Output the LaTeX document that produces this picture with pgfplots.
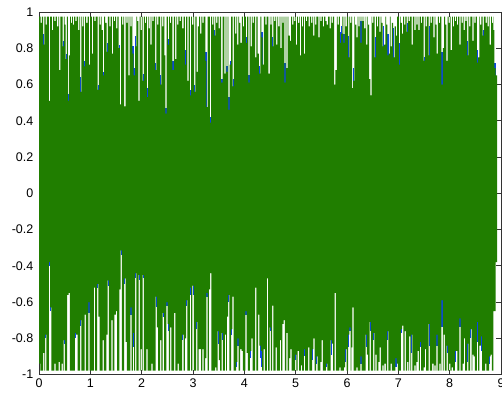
\documentclass[border={0pt 0pt -2.5pt 0pt}]{standalone}
\usepackage{pgfplots}
\pgfplotsset{compat=1.18}
\usepackage{pgfplotstable}
\usepackage{fontspec}
\setmainfont{Liberation Sans}
\definecolor{mgreen}{RGB}{32,126,0}
\definecolor{mblue}{RGB}{10,70,230}

\pgfplotstableread{
x y
0 0.975
0.03 0.94
0.055 0.975
0.08 0.82
0.105 0.975
0.13 0.93
0.155 0.975
0.19 0.51
0.215 0.975
0.25 0.90
0.275 0.975
0.30 0.95
0.325 0.975
0.35 0.92
0.375 0.975
0.39 0.68
0.415 0.975
0.46 0.81
0.485 0.975
0.50 0.93
0.52 0.74
0.545 0.975
0.56 0.51
0.58 0.76
0.605 0.975
0.62 0.94
0.645 0.975
0.66 0.93
0.685 0.975
0.71 0.95
0.735 0.975
0.76 0.90
0.785 0.975
0.80 0.56
0.825 0.975
0.84 0.92
0.865 0.975
0.875 0.70
0.90 0.975
0.92 0.94
0.945 0.975
0.97 0.71
0.995 0.975
1.03 0.77
1.055 0.975
1.08 0.95
1.105 0.975
1.14 0.57
1.165 0.975
1.18 0.93
1.205 0.975
1.22 0.90
1.245 0.65
1.27 0.975
1.29 0.94
1.315 0.78
1.34 0.975
1.37 0.92
1.395 0.975
1.42 0.77
1.445 0.975
1.46 0.95
1.485 0.975
1.50 0.91
1.525 0.975
1.55 0.80
1.575 0.49
1.60 0.975
1.62 0.93
1.645 0.975
1.66 0.48
1.685 0.975
1.70 0.94
1.725 0.975
1.74 0.65
1.765 0.975
1.78 0.92
1.805 0.975
1.82 0.77
1.845 0.65
1.87 0.81
1.895 0.975
1.91 0.95
1.935 0.51
1.96 0.975
1.98 0.90
2.005 0.975
2.02 0.62
2.045 0.975
2.06 0.94
2.085 0.975
2.10 0.53
2.125 0.975
2.135 0.91
2.16 0.975
2.17 0.82
2.195 0.975
2.21 0.95
2.235 0.975
2.26 0.68
2.285 0.975
2.30 0.93
2.325 0.975
2.36 0.60
2.385 0.975
2.40 0.92
2.425 0.975
2.44 0.76
2.46 0.44
2.485 0.975
2.51 0.82
2.535 0.975
2.55 0.94
2.575 0.975
2.60 0.68
2.625 0.975
2.65 0.74
2.675 0.975
2.69 0.93
2.715 0.975
2.74 0.95
2.765 0.975
2.79 0.91
2.815 0.975
2.84 0.71
2.865 0.975
2.89 0.62
2.915 0.975
2.94 0.54
2.965 0.975
2.98 0.93
3.005 0.975
3.02 0.56
3.045 0.975
3.07 0.67
3.095 0.92
3.12 0.975
3.14 0.88
3.165 0.975
3.18 0.94
3.205 0.975
3.24 0.73
3.26 0.475
3.285 0.975
3.33 0.39
3.355 0.975
3.37 0.93
3.395 0.975
3.41 0.87
3.435 0.975
3.45 0.94
3.475 0.975
3.50 0.91
3.525 0.975
3.55 0.61
3.575 0.975
3.61 0.66
3.635 0.975
3.65 0.67
3.675 0.975
3.69 0.46
3.715 0.71
3.74 0.975
3.77 0.59
3.795 0.975
3.82 0.88
3.845 0.975
3.86 0.82
3.885 0.975
3.90 0.94
3.925 0.83
3.95 0.975
3.97 0.92
3.995 0.975
4.03 0.83
4.055 0.975
4.08 0.61
4.105 0.975
4.12 0.81
4.145 0.975
4.16 0.94
4.185 0.975
4.21 0.75
4.235 0.975
4.26 0.77
4.285 0.66
4.31 0.975
4.33 0.86
4.355 0.71
4.38 0.975
4.41 0.93
4.435 0.975
4.47 0.66
4.495 0.975
4.505 0.93
4.53 0.975
4.54 0.81
4.565 0.975
4.58 0.95
4.605 0.975
4.62 0.82
4.645 0.975
4.66 0.92
4.685 0.975
4.70 0.80
4.725 0.975
4.74 0.94
4.765 0.975
4.78 0.61
4.805 0.975
4.82 0.69
4.845 0.975
4.86 0.87
4.885 0.84
4.91 0.975
4.93 0.93
4.955 0.975
4.97 0.95
4.995 0.975
5.005 0.82
5.03 0.975
5.045 0.94
5.07 0.975
5.08 0.76
5.105 0.975
5.12 0.92
5.145 0.975
5.16 0.77
5.185 0.975
5.20 0.95
5.225 0.975
5.25 0.92
5.275 0.975
5.30 0.94
5.325 0.975
5.34 0.87
5.365 0.975
5.38 0.93
5.405 0.975
5.44 0.86
5.465 0.975
5.48 0.95
5.505 0.975
5.53 0.92
5.555 0.975
5.58 0.95
5.605 0.93
5.63 0.975
5.66 0.91
5.685 0.975
5.70 0.94
5.725 0.975
5.75 0.60
5.775 0.68
5.80 0.975
5.815 0.93
5.84 0.975
5.86 0.83
5.885 0.88
5.91 0.975
5.93 0.83
5.955 0.975
5.97 0.92
5.995 0.975
6.02 0.75
6.045 0.975
6.06 0.94
6.085 0.975
6.10 0.58
6.12 0.62
6.145 0.975
6.155 0.93
6.18 0.86
6.205 0.975
6.22 0.92
6.245 0.975
6.26 0.83
6.285 0.975
6.30 0.95
6.325 0.975
6.335 0.91
6.36 0.975
6.37 0.82
6.395 0.975
6.405 0.93
6.43 0.63
6.455 0.54
6.48 0.975
6.49 0.94
6.515 0.975
6.54 0.75
6.565 0.975
6.58 0.92
6.605 0.975
6.63 0.89
6.655 0.975
6.67 0.94
6.695 0.81
6.72 0.82
6.745 0.975
6.76 0.93
6.785 0.76
6.81 0.77
6.835 0.975
6.85 0.81
6.875 0.94
6.90 0.75
6.925 0.92
6.95 0.87
6.975 0.975
7.01 0.71
7.035 0.975
7.045 0.94
7.07 0.88
7.095 0.975
7.11 0.93
7.135 0.975
7.16 0.89
7.185 0.975
7.20 0.95
7.225 0.975
7.26 0.82
7.285 0.975
7.31 0.90
7.335 0.975
7.35 0.93
7.375 0.975
7.39 0.90
7.415 0.975
7.44 0.94
7.465 0.975
7.49 0.73
7.515 0.975
7.53 0.92
7.555 0.975
7.59 0.76
7.615 0.975
7.63 0.94
7.655 0.975
7.68 0.86
7.705 0.975
7.72 0.93
7.745 0.77
7.77 0.975
7.79 0.94
7.815 0.975
7.84 0.60
7.865 0.80
7.89 0.975
7.91 0.93
7.935 0.73
7.96 0.975
7.98 0.94
8.005 0.975
8.02 0.79
8.045 0.975
8.06 0.92
8.085 0.975
8.10 0.95
8.125 0.975
8.14 0.93
8.165 0.975
8.19 0.82
8.215 0.975
8.23 0.94
8.255 0.975
8.27 0.90
8.295 0.975
8.305 0.95
8.33 0.975
8.34 0.76
8.365 0.975
8.38 0.92
8.405 0.975
8.44 0.84
8.465 0.975
8.48 0.94
8.505 0.975
8.53 0.72
8.555 0.75
8.58 0.975
8.59 0.93
8.615 0.975
8.64 0.87
8.665 0.975
8.70 0.94
8.725 0.975
8.74 0.92
8.765 0.975
8.78 0.82
8.805 0.975
8.82 0.94
8.845 0.975
8.85 0.90
8.87 0.69
8.895 0.65
8.925 0.65
}\gupper

\pgfplotstableread{
x y
0 -0.94
0.025 -0.978
0.08 -0.88
0.105 -0.978
0.12 -0.78
0.145 -0.978
0.19 -0.38
0.215 -0.63
0.24 -0.978
0.30 -0.94
0.325 -0.978
0.38 -0.93
0.405 -0.978
0.44 -0.94
0.465 -0.978
0.48 -0.81
0.505 -0.978
0.55 -0.56
0.575 -0.55
0.60 -0.978
0.70 -0.77
0.725 -0.78
0.75 -0.978
0.80 -0.70
0.825 -0.978
0.89 -0.67
0.915 -0.978
0.96 -0.60
0.985 -0.978
1.07 -0.52
1.095 -0.978
1.13 -0.50
1.155 -0.68
1.18 -0.978
1.24 -0.81
1.265 -0.978
1.31 -0.78
1.335 -0.48
1.36 -0.978
1.41 -0.70
1.435 -0.978
1.47 -0.67
1.495 -0.65
1.52 -0.978
1.565 -0.53
1.59 -0.315
1.615 -0.978
1.66 -0.47
1.685 -0.82
1.71 -0.978
1.78 -0.63
1.805 -0.978
1.83 -0.77
1.855 -0.978
1.87 -0.44
1.895 -0.978
1.94 -0.45
1.965 -0.978
1.98 -0.86
2.005 -0.978
2.02 -0.45
2.045 -0.978
2.09 -0.86
2.115 -0.978
2.19 -0.94
2.215 -0.978
2.27 -0.57
2.295 -0.74
2.32 -0.978
2.36 -0.81
2.385 -0.978
2.41 -0.66
2.435 -0.978
2.48 -0.60
2.505 -0.72
2.53 -0.978
2.555 -0.74
2.58 -0.978
2.63 -0.66
2.655 -0.978
2.70 -0.94
2.725 -0.978
2.79 -0.78
2.815 -0.978
2.84 -0.80
2.865 -0.59
2.89 -0.978
2.94 -0.52
2.965 -0.978
2.99 -0.51
3.015 -0.978
3.06 -0.71
3.085 -0.978
3.11 -0.86
3.135 -0.86
3.16 -0.978
3.18 -0.86
3.205 -0.978
3.235 -0.91
3.26 -0.55
3.285 -0.978
3.31 -0.53
3.335 -0.44
3.36 -0.978
3.43 -0.96
3.455 -0.978
3.48 -0.76
3.505 -0.92
3.53 -0.978
3.555 -0.77
3.58 -0.978
3.62 -0.78
3.645 -0.978
3.66 -0.68
3.685 -0.56
3.71 -0.978
3.74 -0.75
3.765 -0.57
3.79 -0.978
3.84 -0.93
3.865 -0.80
3.89 -0.978
3.92 -0.86
3.945 -0.87
3.97 -0.978
4.02 -0.65
4.045 -0.88
4.07 -0.978
4.11 -0.87
4.135 -0.80
4.16 -0.978
4.21 -0.52
4.235 -0.978
4.27 -0.67
4.295 -0.84
4.32 -0.87
4.345 -0.978
4.375 -0.86
4.40 -0.978
4.44 -0.47
4.465 -0.978
4.49 -0.74
4.515 -0.978
4.54 -0.62
4.565 -0.978
4.61 -0.85
4.635 -0.978
4.69 -0.81
4.715 -0.978
4.74 -0.72
4.765 -0.70
4.79 -0.978
4.82 -0.77
4.845 -0.978
4.87 -0.91
4.895 -0.86
4.92 -0.978
4.99 -0.89
5.015 -0.978
5.04 -0.87
5.065 -0.978
5.10 -0.95
5.125 -0.978
5.16 -0.86
5.185 -0.978
5.24 -0.85
5.265 -0.978
5.32 -0.86
5.345 -0.80
5.37 -0.978
5.40 -0.90
5.425 -0.978
5.48 -0.93
5.505 -0.81
5.53 -0.978
5.59 -0.94
5.615 -0.978
5.68 -0.81
5.705 -0.83
5.73 -0.978
5.76 -0.55
5.785 -0.978
5.85 -0.96
5.875 -0.978
5.94 -0.96
5.965 -0.86
5.99 -0.978
6.02 -0.78
6.045 -0.74
6.07 -0.978
6.085 -0.85
6.105 -0.63
6.13 -0.978
6.18 -0.96
6.205 -0.978
6.26 -0.90
6.285 -0.978
6.36 -0.78
6.385 -0.89
6.41 -0.978
6.44 -0.71
6.465 -0.978
6.51 -0.77
6.535 -0.978
6.55 -0.89
6.575 -0.978
6.61 -0.93
6.635 -0.85
6.66 -0.978
6.69 -0.95
6.715 -0.978
6.73 -0.94
6.755 -0.978
6.78 -0.76
6.805 -0.978
6.85 -0.94
6.875 -0.978
6.94 -0.91
6.965 -0.94
6.99 -0.978
7.05 -0.75
7.075 -0.73
7.10 -0.978
7.12 -0.76
7.145 -0.978
7.17 -0.93
7.195 -0.978
7.21 -0.79
7.235 -0.978
7.25 -0.78
7.275 -0.978
7.31 -0.95
7.335 -0.978
7.35 -0.93
7.375 -0.87
7.40 -0.978
7.42 -0.82
7.445 -0.978
7.49 -0.96
7.515 -0.86
7.54 -0.978
7.59 -0.72
7.615 -0.978
7.66 -0.94
7.685 -0.978
7.70 -0.95
7.725 -0.978
7.74 -0.78
7.765 -0.978
7.80 -0.94
7.825 -0.978
7.84 -0.59
7.865 -0.978
7.88 -0.78
7.905 -0.978
7.94 -0.84
7.965 -0.978
7.99 -0.94
8.015 -0.978
8.04 -0.96
8.065 -0.978
8.10 -0.87
8.125 -0.87
8.15 -0.978
8.19 -0.69
8.215 -0.978
8.25 -0.94
8.275 -0.80
8.30 -0.978
8.34 -0.83
8.365 -0.978
8.40 -0.75
8.425 -0.978
8.44 -0.89
8.465 -0.90
8.49 -0.978
8.53 -0.71
8.555 -0.978
8.58 -0.84
8.605 -0.79
8.63 -0.978
8.69 -0.94
8.715 -0.978
8.77 -0.90
8.795 -0.89
8.82 -0.978
8.85 -0.65
8.895 -0.38
8.925 -0.38
}\glower

\pgfplotstableread{
x y
0.0925 0.88
0.4725 0.84
0.5325 0.77
0.5725 0.55
0.8125 0.64
0.8875 0.73
1.1525 0.60
1.2575 0.67
1.3275 0.83
1.5625 0.82
1.8325 0.81
1.8575 0.69
1.8825 0.87
2.0325 0.66
2.1125 0.58
2.2725 0.72
2.3725 0.65
2.4725 0.47
2.5225 0.85
2.6125 0.73
2.8525 0.79
2.9525 0.57
3.0325 0.60
3.2525 0.78
3.3425 0.42
3.4225 0.90
3.5625 0.63
3.6625 0.70
3.7025 0.53
3.7275 0.73
3.7825 0.63
4.0425 0.86
4.0925 0.65
4.2975 0.70
4.3425 0.89
4.5525 0.86
4.7925 0.72
5.8725 0.89
5.8975 0.92
5.9425 0.88
6.0325 0.87
6.1325 0.69
6.2725 0.95
6.5525 0.86
6.7075 0.92
6.7975 0.88
6.9125 0.91
7.0225 0.83
7.1725 0.94
7.5025 0.75
7.6025 0.92
7.8525 0.78
8.3525 0.84
8.5425 0.79
8.6525 0.90
8.8825 0.72
}\bluetop

\pgfplotstableread{
x y
0.1325 -0.80
0.2025 -0.40
0.2275 -0.65
0.4925 -0.83
0.7125 -0.80
0.8125 -0.73
0.9725 -0.66
1.1425 -0.52
1.3475 -0.51
1.6025 -0.34
1.6725 -0.50
1.7925 -0.67
1.8425 -0.85
1.8825 -0.47
1.9525 -0.48
2.0325 -0.47
2.2825 -0.63
2.4225 -0.68
2.4925 -0.62
2.5175 -0.76
2.8025 -0.81
2.8775 -0.62
2.9525 -0.56
3.0025 -0.56
3.0725 -0.75
3.2725 -0.57
3.4925 -0.83
3.5675 -0.81
3.6975 -0.60
3.7525 -0.78
3.8525 -0.96
3.8775 -0.84
4.0325 -0.67
4.1225 -0.91
4.3075 -0.91
4.3325 -0.96
4.5025 -0.76
5.0025 -0.92
5.1725 -0.90
5.3325 -0.92
5.4125 -0.94
5.6025 -0.96
5.6925 -0.89
5.9775 -0.93
6.0325 -0.85
6.0575 -0.76
6.2725 -0.94
6.3725 -0.85
6.4525 -0.76
6.5225 -0.81
6.7925 -0.81
6.9525 -0.96
7.0625 -0.77
7.2625 -0.88
7.4325 -0.85
7.6025 -0.84
7.7525 -0.84
7.8525 -0.74
7.9525 -0.88
8.1125 -0.93
8.2025 -0.74
8.3525 -0.93
8.4125 -0.80
8.5425 -0.82
8.6175 -0.87
8.7825 -0.94
}\bluebot

\begin{document}
\begin{tikzpicture}
\path (0,0) rectangle (502pt,396pt);
\begin{axis}[
  at={(39pt,21.5pt)}, anchor=south west,
  width=462pt, height=362.5pt, scale only axis,
  xmin=0, xmax=9, ymin=-1, ymax=1,
  xtick={0,1,...,9},
  ytick={-1,-0.8,-0.6,-0.4,-0.2,0,0.2,0.4,0.6,0.8,1},
  yticklabels={-1,-0.8,-0.6,-0.4,-0.2,0,0.2,0.4,0.6,0.8,1},
  xticklabels={0,1,2,3,4,5,6,7,8,9},
  tick align=inside, tick pos=both,
  major tick length=5pt,
  axis line style={black!80, line width=0.9pt},
  every tick/.style={black!80, line width=0.8pt},
  ticklabel style={font=\fontsize{12.5}{15}\selectfont, text=black, inner sep=0pt},
  xticklabel style={yshift=-4pt},
  yticklabel style={xshift=-5.5pt},
  clip=true,
]
\addplot[ycomb, mblue, line width=1.25pt, mark=none, forget plot] table {\bluetop};
\addplot[ycomb, mblue, line width=1.25pt, mark=none, forget plot] table {\bluebot};
\addplot[const plot mark left, fill=mgreen, draw=none, mark=none, forget plot] table {\gupper} \closedcycle;
\addplot[const plot mark left, fill=mgreen, draw=none, mark=none, forget plot] table {\glower} \closedcycle;
\addplot[mgreen, line width=3pt, mark=none, forget plot] coordinates {(0,0) (8.925,0)};
\end{axis}
\end{tikzpicture}
\end{document}
